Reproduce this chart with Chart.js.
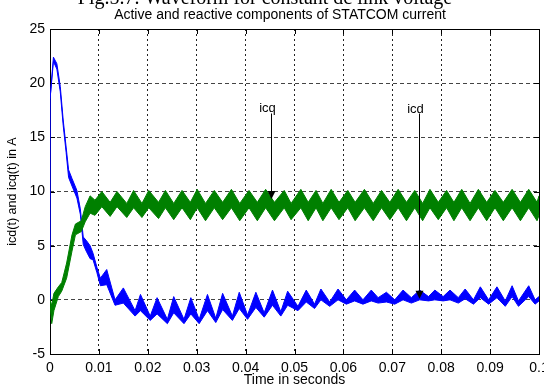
<!DOCTYPE html>
<html>
<head>
<meta charset="utf-8">
<script src="https://cdn.jsdelivr.net/npm/chart.js@4.4.1/dist/chart.umd.min.js"></script>
<style>
  html, body { margin: 0; padding: 0; background: #fff; }
</style>
</head>
<body>
<canvas id="statcomChart" width="544" height="387"></canvas>
<script>
// axis ticks
const xTicks = [0, 0.01, 0.02, 0.03, 0.04, 0.05, 0.06, 0.07, 0.08, 0.09, 0.1];
const yTicks = [-5, 0, 5, 10, 15, 20, 25];

// icd (active component) - blue band, upper / lower edge
const icdTime = [0, 0, 0.0007, 0.0014, 0.0021, 0.0027, 0.0033, 0.0038, 0.0045, 0.0055, 0.0062, 0.0068, 0.0074, 0.0082, 0.0088, 0.0096, 0.0103, 0.0116,
  0.0133, 0.0150, 0.0174, 0.0185, 0.0205, 0.0219, 0.0240, 0.0253, 0.0274, 0.0288,
  0.0305, 0.0322, 0.0339, 0.0353, 0.0373, 0.0387, 0.0404, 0.0421, 0.0438, 0.0455,
  0.0472, 0.0486, 0.0507, 0.0524, 0.0541, 0.0554, 0.0572, 0.0589, 0.0606, 0.0623,
  0.0640, 0.0657, 0.0671, 0.0688, 0.0705, 0.0722, 0.0739, 0.0756, 0.0774, 0.0787,
  0.0804, 0.0818, 0.0835, 0.0849, 0.0866, 0.0880, 0.0897, 0.0914, 0.0931, 0.0945,
  0.0958, 0.0979, 0.0992, 0.1];
const icdUpper = [0, 18.5, 22.4, 21.8, 19.7, 16.6, 14.1, 12.0, 11.2, 10.1, 8.4, 5.8, 5.5, 5.0, 4.3, 3.0, 2.0, 2.8,
  0.0, 1.1, -1.0, 0.5, -1.5, 0.2, -1.8, 0.3, -1.8, 0.2,
  -1.8, 0.5, -1.7, 0.6, -1.5, 0.7, -1.4, 0.7, -1.2, 0.9,
  -1.1, 0.8, -0.6, 0.9, -0.4, 1.0, -0.2, 1.0, 0.0, 0.9,
  0.0, 0.9, 0.2, 0.7, 0.0, 0.9, 0.2, 0.9, 0.3, 0.9,
  0.3, 0.9, 0.2, 1.0, 0.0, 1.2, 0.0, 1.2, -0.1, 1.3,
  -0.1, 1.3, 0.0, 0.3];
const icdLower = [0, 18.5, 22.0, 21.3, 19.2, 16.1, 13.6, 11.3, 10.5, 9.4, 7.9, 5.1, 4.5, 3.8, 3.7, 2.5, 1.3, 1.4,
  -0.5, -0.3, -1.5, -1.0, -1.9, -1.3, -2.2, -1.2, -2.2, -1.3,
  -2.2, -1.0, -2.1, -0.9, -1.9, -0.8, -1.8, -0.7, -1.6, -0.5,
  -1.5, -0.5, -1.0, -0.2, -0.8, 0.0, -0.6, 0.0, -0.4, -0.1,
  -0.4, -0.1, -0.3, -0.2, -0.4, 0.0, -0.3, 0.0, -0.1, 0.0,
  -0.1, 0.0, -0.3, 0.1, -0.4, 0.2, -0.4, 0.2, -0.6, 0.3,
  -0.6, 0.3, -0.4, -0.1];

// icq (reactive component) - green band
const icqTime = [0, 0.00035, 0.0008, 0.0017, 0.0024, 0.0034, 0.0045, 0.0052, 0.0064, 0.0072, 0.0082, 0.0092,
  0.0106, 0.0123, 0.0137, 0.0157, 0.0171, 0.0188, 0.0202, 0.0222, 0.0236, 0.0253,
  0.0270, 0.0287, 0.0301, 0.0318, 0.0336, 0.0353, 0.0371, 0.0388, 0.0407, 0.0424,
  0.0441, 0.0459, 0.0479, 0.0493, 0.0513, 0.0528, 0.0544, 0.0558, 0.0575, 0.0591,
  0.0609, 0.0624, 0.0643, 0.0661, 0.0678, 0.0695, 0.0712, 0.0729, 0.0746, 0.0762,
  0.0777, 0.0794, 0.0811, 0.0826, 0.0842, 0.0859, 0.0876, 0.0893, 0.0910, 0.0927,
  0.0945, 0.0962, 0.0979, 0.0996, 0.1];
const icqUpper = [0, -0.5, 0.6, 1.2, 1.6, 3.4, 6.0, 7.0, 7.3, 8.6, 9.6, 9.2,
  10.0, 9.0, 10.0, 8.9, 10.1, 8.9, 10.1, 9.0, 10.1, 8.9,
  10.1, 9.0, 10.2, 8.9, 10.1, 9.0, 10.2, 8.9, 10.1, 9.0,
  10.2, 9.0, 10.1, 8.9, 10.2, 9.0, 10.1, 8.9, 10.2, 9.0,
  10.1, 9.0, 10.2, 8.9, 10.1, 9.0, 10.2, 9.0, 10.1, 8.9,
  10.2, 9.0, 10.1, 9.0, 10.2, 8.9, 10.2, 9.0, 10.1, 9.0,
  10.2, 9.0, 10.2, 9.0, 9.6];
const icqLower = [-0.3, -2.2, -1.0, 0.3, 0.8, 2.0, 4.5, 6.0, 6.3, 7.2, 8.0, 7.8,
  8.6, 7.7, 8.6, 7.6, 8.5, 7.6, 8.5, 7.5, 8.5, 7.4,
  8.5, 7.4, 8.5, 7.3, 8.5, 7.4, 8.5, 7.3, 8.5, 7.3,
  8.5, 7.3, 8.5, 7.4, 8.5, 7.3, 8.5, 7.3, 8.5, 7.4,
  8.5, 7.3, 8.5, 7.3, 8.5, 7.4, 8.5, 7.3, 8.5, 7.3,
  8.5, 7.4, 8.5, 7.3, 8.5, 7.3, 8.5, 7.3, 8.5, 7.3,
  8.5, 7.3, 8.5, 7.3, 7.8];

// arrow annotations (data coords)
const arrowLabels = ['icq', 'icd'];
const arrowTime = [0.04523, 0.07546];
const arrowLabelTime = [0.04448, 0.07474];
const arrowFrom = [17.2, 17.2];
const arrowTo = [9.3, 0.1];
const arrowLabelY = [17.7, 17.6];

const toPoints = (ts, vs) => ts.map((t, i) => ({ x: t, y: vs[i] }));
const BLUE = '#0000ff';
const GREEN = '#008000';
const FONT = "'Liberation Sans', Arial, sans-serif";

const decor = {
  id: 'decor',
  beforeDatasetsDraw(chart) {
    const { ctx, chartArea: a, scales } = chart;
    ctx.save();
    ctx.strokeStyle = '#000';
    ctx.lineWidth = 1;
    ctx.strokeRect(Math.round(a.left) + 0.5, Math.round(a.top) + 0.5, Math.round(a.right - a.left), Math.round(a.bottom - a.top));
    // inner tick marks, matlab style
    ctx.beginPath();
    xTicks.forEach(v => {
      const px = Math.round(scales.x.getPixelForValue(v)) + 0.5;
      ctx.moveTo(px, a.bottom); ctx.lineTo(px, a.bottom - 5);
      ctx.moveTo(px, a.top); ctx.lineTo(px, a.top + 5);
    });
    yTicks.forEach(v => {
      const py = Math.round(scales.y.getPixelForValue(v)) + 0.5;
      ctx.moveTo(a.left, py); ctx.lineTo(a.left + 5, py);
      ctx.moveTo(a.right, py); ctx.lineTo(a.right - 5, py);
    });
    ctx.stroke();
    ctx.restore();
  },
  afterDraw(chart) {
    const { ctx, scales } = chart;
    ctx.save();
    // clipped figure caption above the plot
    ctx.fillStyle = '#000';
    ctx.font = "20px 'Liberation Serif', 'Times New Roman', serif";
    ctx.textAlign = 'center';
    ctx.textBaseline = 'alphabetic';
    ctx.fillText('Fig.5.7. Waveform for constant dc link voltage', 265, 4);
    ctx.font = '14px ' + FONT;
    ctx.textBaseline = 'middle';
    ctx.fillText('Active and reactive components of STATCOM current', 280, 15);

    // arrows
    ctx.strokeStyle = '#000';
    ctx.lineWidth = 1;
    arrowLabels.forEach((lab, i) => {
      const x = Math.round(scales.x.getPixelForValue(arrowTime[i])) + 0.5;
      const y0 = scales.y.getPixelForValue(arrowFrom[i]);
      const y1 = scales.y.getPixelForValue(arrowTo[i]);
      ctx.beginPath();
      ctx.moveTo(x, y0);
      ctx.lineTo(x, y1 - 6);
      ctx.stroke();
      ctx.beginPath();
      ctx.moveTo(x - 4, y1 - 8);
      ctx.lineTo(x + 4, y1 - 8);
      ctx.lineTo(x, y1);
      ctx.closePath();
      ctx.fill();
      ctx.font = '13px ' + FONT;
      ctx.textAlign = 'center';
      ctx.fillText(lab, scales.x.getPixelForValue(arrowLabelTime[i]), scales.y.getPixelForValue(arrowLabelY[i]));
    });
    ctx.restore();
  }
};

const line = { borderWidth: 1, pointRadius: 0, tension: 0 };

new Chart(document.getElementById('statcomChart'), {
  type: 'line',
  data: {
    datasets: [
      { label: 'icq', data: toPoints(icqTime, icqUpper), borderColor: GREEN, backgroundColor: GREEN, fill: false, ...line },
      { label: 'icq low', data: toPoints(icqTime, icqLower), borderColor: GREEN, backgroundColor: GREEN, fill: 0, ...line },
      { label: 'icd', data: toPoints(icdTime, icdUpper), borderColor: BLUE, backgroundColor: BLUE, fill: false, ...line },
      { label: 'icd low', data: toPoints(icdTime, icdLower), borderColor: BLUE, backgroundColor: BLUE, fill: 2, ...line }
    ]
  },
  options: {
    responsive: false,
    animation: false,
    layout: { padding: { top: 29, right: 5, left: 0, bottom: 0 } },
    plugins: { legend: { display: false }, tooltip: { enabled: false } },
    scales: {
      x: {
        type: 'linear', min: 0, max: 0.1,
        afterBuildTicks: s => { s.ticks = xTicks.map(v => ({ value: v })); },
        afterFit: s => { s.height = 33; s.paddingLeft = 0; s.paddingRight = 0; },
        ticks: { autoSkip: false, maxRotation: 0, padding: 6, color: '#000', font: { family: FONT, size: 14 },
                 callback: v => String(+v.toFixed(2)) },
        grid: { color: '#222', lineWidth: 1, drawTicks: false },
        border: { display: false, dash: [2, 3] },
        title: { display: true, text: 'Time in seconds', color: '#000', padding: { top: -2, bottom: 0 },
                 font: { family: FONT, size: 14, lineHeight: 1 } }
      },
      y: {
        min: -5, max: 25,
        afterBuildTicks: s => { s.ticks = yTicks.map(v => ({ value: v })); },
        afterFit: s => { s.width = 50; s.paddingTop = 0; s.paddingBottom = 0; },
        ticks: { padding: 5, color: '#000', font: { family: FONT, size: 14 } },
        grid: { color: '#444', lineWidth: 1, drawTicks: false },
        border: { display: false, dash: [4, 3] },
        title: { display: true, text: 'icd(t) and icq(t) in A', color: '#000', padding: { top: 6, bottom: 0 },
                 font: { family: FONT, size: 12.5, lineHeight: 1 } }
      }
    }
  },
  plugins: [decor]
});
</script>
</body>
</html>
